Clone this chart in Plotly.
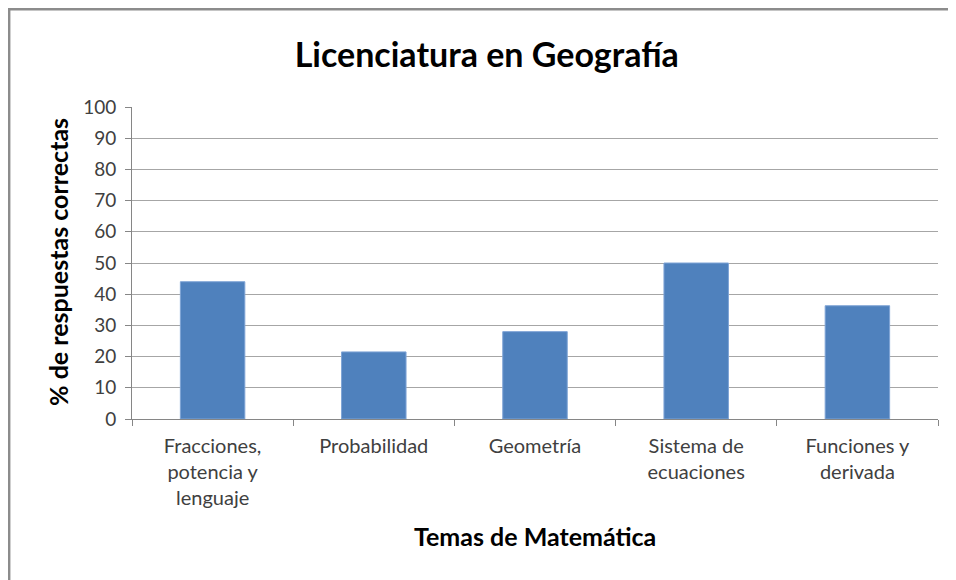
import plotly.graph_objects as go

categories = ["Fracciones,<br>potencia y<br>lenguaje", "Probabilidad", "Geometría",
              "Sistema de<br>ecuaciones", "Funciones y<br>derivada"]
values = [44.0, 21.5, 28.0, 50.0, 36.3]
y_ticks = list(range(0, 101, 10))

FONT = "Lato"
TICK_COLOR = "#404040"

fig = go.Figure(go.Bar(
    x=categories, y=values,
    marker=dict(color="#4f81bd", line=dict(color="#7fa4d6", width=1)),
    width=0.4,
))

fig.update_layout(
    width=948, height=572,
    margin=dict(l=124, r=18, t=99, b=161),
    paper_bgcolor="white", plot_bgcolor="white",
    showlegend=False,
    font=dict(family=FONT, size=18, color=TICK_COLOR),
    title=dict(text="<b>Licenciatura en Geografía</b>", x=0.505, xanchor="center",
               y=0.918, yanchor="middle",
               font=dict(family=FONT, size=34, color="black")),
    shapes=[
        dict(type="line", xref="paper", yref="paper", x0=-0.1524, x1=1.05, y0=1.3135, y1=1.3135,
             line=dict(color="#8c8c8c", width=2.5)),
        dict(type="line", xref="paper", yref="paper", x0=-0.1524, x1=-0.1524, y0=1.32, y1=-0.6,
             line=dict(color="#8c8c8c", width=2.5)),
    ],
    annotations=[
        dict(text="<b>Temas de Matemática</b>", xref="paper", yref="paper",
             x=0.5, y=-0.375, xanchor="center", yanchor="middle", showarrow=False,
             font=dict(family=FONT, size=25, color="black")),
        dict(text="<b>% de respuestas correctas</b>", xref="paper", yref="paper",
             x=-0.092, y=0.503, xanchor="center", yanchor="middle", showarrow=False,
             textangle=-90, font=dict(family=FONT, size=25, color="black")),
    ],
)

fig.update_xaxes(
    type="category", tickson="boundaries", ticks="outside", ticklen=6,
    tickcolor="#868686", showline=True, linecolor="#868686", linewidth=1,
    showgrid=False, tickfont=dict(family=FONT, size=20, color=TICK_COLOR),
    ticklabelstandoff=9,
)
fig.update_yaxes(
    range=[0, 100], tickvals=y_ticks, ticks="outside", ticklen=6,
    tickcolor="#868686", showline=True, linecolor="#868686", linewidth=1,
    showgrid=True, gridcolor="#a6a6a6", gridwidth=1, zeroline=False,
    tickfont=dict(family=FONT, size=19, color=TICK_COLOR),
    ticklabelstandoff=5,
)

fig.write_html("out.html")
